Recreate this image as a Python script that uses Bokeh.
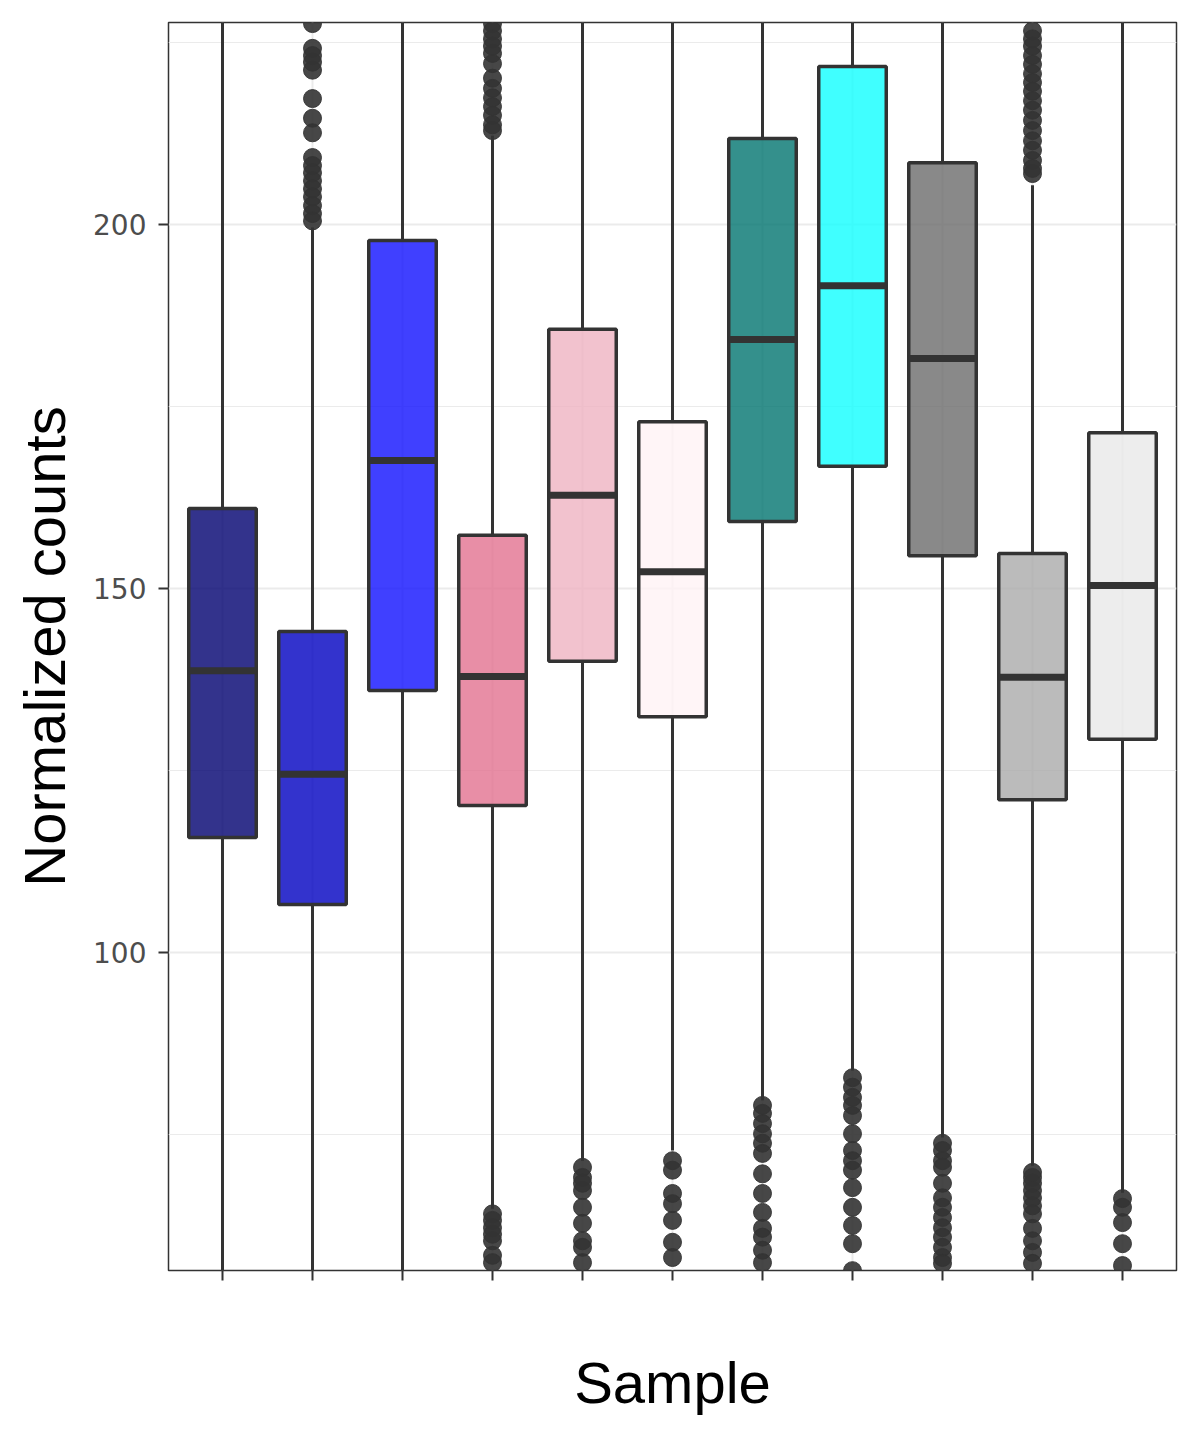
from bokeh.plotting import figure
from bokeh.models import Range1d, FixedTicker, ColumnDataSource
from bokeh.embed import file_html
from bokeh.resources import INLINE

samples = ["S1", "S2", "S3", "S4", "S5", "S6", "S7", "S8", "S9", "S10", "S11"]
q1 = [115.8, 106.6, 136.0, 120.2, 140.0, 132.4, 159.2, 166.8, 154.5, 121.0, 129.3]
median = [138.7, 124.5, 167.6, 137.9, 162.8, 152.3, 184.2, 191.6, 181.6, 137.8, 150.4]
q3 = [161.0, 144.1, 197.8, 157.3, 185.6, 172.9, 211.8, 221.7, 208.5, 154.8, 171.4]
lower = [45.0, 42.0, 50.0, 64.8, 71.4, 72.8, 79.7, 83.8, 74.6, 70.7, 67.0]
upper = [240.0, 199.6, 245.0, 212.2, 236.0, 232.0, 248.0, 252.0, 244.0, 205.4, 236.0]
fill_colors = ["#00006F", "#0000C0", "#1010FF", "#E27290", "#EFB3C2", "#FFF2F5",
               "#01746F", "#10FFFF", "#6C6C6C", "#AAAAAA", "#E9E9E9"]

outliers = {
    2: [227.6, 224.2, 223.2, 222.3, 221.2, 217.3, 214.6, 212.6, 209.2, 208.1,
        207.1, 206.0, 204.9, 203.8, 202.6, 201.5, 200.5],
    4: [227.6, 226.6, 225.5, 224.5, 223.5, 222.1, 220.1, 218.7, 217.4, 216.2,
        215.0, 213.7, 212.9, 64.1, 63.2, 62.2, 61.3, 60.4, 58.4, 57.4],
    5: [70.5, 69.1, 68.3, 67.3, 65.0, 62.8, 60.4, 59.5, 57.4],
    6: [71.4, 70.1, 66.9, 65.5, 63.2, 60.2, 58.1],
    7: [79.0, 77.9, 76.5, 75.1, 73.8, 72.4, 69.6, 66.9, 64.3, 62.1, 60.9, 59.1, 57.4],
    8: [82.8, 81.5, 80.1, 79.0, 77.6, 75.1, 72.8, 71.4, 70.1, 67.7, 65.0, 62.5, 60.0, 56.3],
    9: [73.8, 72.8, 71.4, 70.5, 68.3, 66.3, 65.0, 63.6, 62.2, 60.9, 59.5, 58.1, 57.3],
    10: [226.6, 225.5, 224.5, 223.2, 222.0, 220.7, 219.5, 218.3, 217.0, 215.7,
         214.3, 212.9, 211.5, 210.2, 208.8, 207.7, 207.0,
         69.8, 69.1, 68.3, 67.3, 66.3, 65.2, 64.1, 62.1, 60.4, 58.8, 57.3],
    11: [66.2, 65.0, 62.9, 60.0, 57.0],
}

y_ticks = [100, 150, 200]
y_minor = [75, 125, 175, 225]

xs = list(range(1, len(samples) + 1))
half = 0.375
src = ColumnDataSource(dict(
    x=xs, name=samples, q1=q1, med=median, q3=q3, lo=lower, hi=upper,
    color=fill_colors,
    x0=[x - half for x in xs], x1=[x + half for x in xs],
))

ox, oy = [], []
for k, vals in outliers.items():
    for v in vals:
        ox.append(k)
        oy.append(v)

p = figure(width=1184, height=1424, output_backend="svg", toolbar_location=None,
           x_range=Range1d(0.4, 11.6), y_range=Range1d(56.32, 227.75),
           min_border_left=168, min_border_right=8, min_border_top=22,
           min_border_bottom=154)
p.background_fill_color = "white"
p.border_fill_color = "white"
p.outline_line_color = "#333333"
p.outline_line_width = 1.5

# grids
p.xgrid.ticker = FixedTicker(ticks=xs)
p.xgrid.grid_line_color = "#EBEBEB"
p.xgrid.grid_line_width = 2
p.ygrid.ticker = FixedTicker(ticks=y_ticks, minor_ticks=y_minor)
p.ygrid.grid_line_color = "#EBEBEB"
p.ygrid.grid_line_width = 2
p.ygrid.minor_grid_line_color = "#EBEBEB"
p.ygrid.minor_grid_line_width = 1.2

# axes
p.xaxis.ticker = FixedTicker(ticks=xs)
p.xaxis.major_label_overrides = {x: "" for x in xs}
p.yaxis.ticker = FixedTicker(ticks=y_ticks)
for ax in (p.xaxis[0], p.yaxis[0]):
    ax.axis_line_color = None
    ax.major_tick_line_color = "#333333"
    ax.major_tick_line_width = 2
    ax.major_tick_out = 10
    ax.major_tick_in = 0
    ax.minor_tick_line_color = None
    ax.major_label_text_font = "DejaVu Sans"
    ax.major_label_text_font_size = "28px"
    ax.major_label_text_color = "#4D4D4D"
    ax.axis_label_text_font = "Liberation Sans"
    ax.axis_label_text_font_size = "58px"
    ax.axis_label_text_font_style = "normal"
    ax.axis_label_text_color = "black"
p.yaxis.major_label_standoff = 12
p.yaxis.axis_label = "Normalized counts"
p.yaxis.axis_label_standoff = 13
p.xaxis.axis_label = "Sample"
p.xaxis.axis_label_standoff = 69

# outliers
p.scatter(ox, oy, size=18, fill_color="#333333", fill_alpha=0.9,
          line_color="#333333", line_alpha=0.9, line_width=1)

# whiskers
p.segment(x0="x", y0="q3", x1="x", y1="hi", source=src, line_color="#333333", line_width=3)
p.segment(x0="x", y0="q1", x1="x", y1="lo", source=src, line_color="#333333", line_width=3)

# boxes
p.vbar(x="x", width=0.75, top="q3", bottom="q1", source=src, fill_color="color",
       fill_alpha=0.8, line_color="#333333", line_width=3.5)
p.segment(x0="x0", y0="med", x1="x1", y1="med", source=src, line_color="#333333",
          line_width=7)

open("out.html", "w").write(file_html(p, INLINE))
